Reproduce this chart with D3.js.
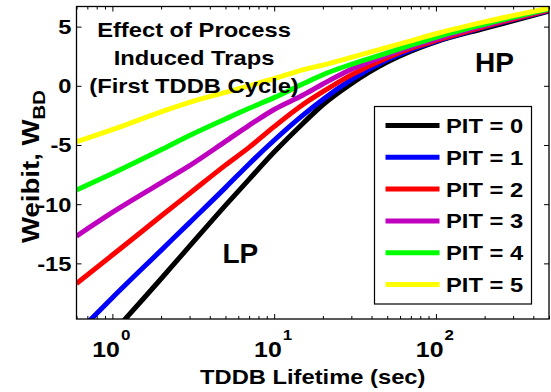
<!DOCTYPE html>
<html><head><meta charset="utf-8">
<script src="https://cdn.jsdelivr.net/npm/d3@7"></script>
<style>
body{margin:0;background:#fff}
text{font-family:"Liberation Sans",Arial,Helvetica,sans-serif;font-weight:bold;fill:#000}
</style>
</head><body>
<svg id="c" width="551" height="392"></svg>
<script>
// ---- data ----
const lifetimes = [0.6, 1, 2, 3, 5, 7, 10, 15, 20, 30, 50, 70, 100, 200, 500];
const pit0 = [-24.2, -20.9, -16.3, -13.55, -10.1, -7.9, -5.6, -3.2, -1.6, 0.19, 2.01, 2.93, 3.72, 4.86, 6.3];
const pit1 = [-20.96, -17.9, -13.9, -11.56, -8.6, -6.6, -4.6, -2.5, -1.15, 0.52, 2.2, 3.04, 3.75, 4.95, 6.35];
const pit2 = [-16.7, -14.3, -11.0, -9.1, -6.7, -5.2, -3.45, -1.6, -0.5, 0.92, 2.38, 3.16, 3.83, 5.0, 6.4];
const pit3 = [-12.7, -10.7, -8.2, -6.75, -4.7, -3.34, -2.0, -0.8, 0.15, 1.39, 2.6, 3.29, 3.95, 5.1, 6.45];
const pit4 = [-8.8, -7.4, -5.4, -4.2, -2.8, -1.9, -1.0, 0.15, 0.94, 1.82, 2.78, 3.44, 4.1, 5.2, 6.5];
const pit5 = [-4.72, -3.7, -2.2, -1.4, -0.55, 0.0, 0.6, 1.35, 1.75, 2.4, 3.25, 3.8, 4.4, 5.4, 6.55];
const seriesNames = ["PIT = 0", "PIT = 1", "PIT = 2", "PIT = 3", "PIT = 4", "PIT = 5"];
const seriesColors = ["#000000", "#0000ff", "#ff0000", "#bf00bf", "#00ff00", "#ffff00"];
const yTicks = [-15, -10, -5, 0, 5];
const xMajorTicks = [1, 10, 100];
const xMajorExp = ["0", "1", "2"];
const titleLines = ["Effect of Process", "Induced Traps", "(First TDDB Cycle)"];
const xDomain = [0.6, 500];
const yDomain = [-19.7, 6.7];

const allSeries = [pit0, pit1, pit2, pit3, pit4, pit5];

// ---- layout ----
const L = 76.5, R = 549, T = 6.5, B = 319;
const SX = 1.13;
const svg = d3.select("#c");
const x = d3.scaleLog().domain(xDomain).range([L, R]);
const y = d3.scaleLinear().domain(yDomain).range([B, T]);

svg.append("defs").append("clipPath").attr("id", "clip")
  .append("rect").attr("x", L).attr("y", T).attr("width", R - L).attr("height", B - T);

function stxt(g, px, py, str, size, anchor) {
  return g.append("text")
    .attr("transform", `translate(${px},${py}) scale(${SX},1)`)
    .attr("text-anchor", anchor)
    .style("font-size", size + "px")
    .text(str);
}

// minor ticks for log axis
const minorTicks = [];
[0.1, 1, 10, 100].forEach(d => { for (let k = 2; k <= 9; k++) { const v = d * k; if (v >= xDomain[0] && v <= xDomain[1]) minorTicks.push(v); } });

// ---- lines ----
const line = d3.line().x((d, i) => x(lifetimes[i])).y(d => y(d)).curve(d3.curveMonotoneX);
const lg = svg.append("g").attr("clip-path", "url(#clip)");
allSeries.forEach((s, i) => {
  lg.append("path").datum(s).attr("d", line)
    .attr("fill", "none").attr("stroke", seriesColors[i])
    .attr("stroke-width", 5).attr("stroke-linejoin", "round");
});

// ---- axes (ticks inside, box) ----
const ax = svg.append("g").attr("class", "axes");
ax.append("g").attr("transform", `translate(0,${B})`)
  .call(d3.axisBottom(x).tickValues(xMajorTicks).tickSize(-5).tickFormat(""));
ax.append("g").attr("transform", `translate(0,${B})`)
  .call(d3.axisBottom(x).tickValues(minorTicks).tickSize(-3).tickFormat(""));
ax.append("g").attr("transform", `translate(0,${T})`)
  .call(d3.axisTop(x).tickValues(xMajorTicks).tickSize(-5).tickFormat(""));
ax.append("g").attr("transform", `translate(0,${T})`)
  .call(d3.axisTop(x).tickValues(minorTicks).tickSize(-3).tickFormat(""));
ax.append("g").attr("transform", `translate(${L},0)`)
  .call(d3.axisLeft(y).tickValues(yTicks).tickSize(-5).tickFormat(""));
ax.append("g").attr("transform", `translate(${R},0)`)
  .call(d3.axisRight(y).tickValues(yTicks).tickSize(-5).tickFormat(""));
ax.selectAll("path.domain").remove();
ax.selectAll("line").attr("stroke", "#000").attr("stroke-width", 1);
svg.append("rect").attr("x", L).attr("y", T).attr("width", R - L).attr("height", B - T)
  .attr("fill", "none").attr("stroke", "#000").attr("stroke-width", 1.3);

// y tick labels
yTicks.forEach(v => stxt(svg, L - 5, y(v) + 7.5, String(v), 21, "end"));

// x tick labels 10^n
xMajorTicks.forEach((v, i) => {
  const g = svg.append("g").attr("transform", `translate(${x(v) - 1},357) scale(${SX},1)`);
  const t = g.append("text").attr("text-anchor", "middle").style("font-size", "22px");
  t.append("tspan").text("10");
  t.append("tspan").attr("dy", -17).attr("dx", 1).style("font-size", "15px").text(xMajorExp[i]);
});

// axis labels
stxt(svg, (L + R) / 2, 383.5, "TDDB Lifetime (sec)", 21, "middle");
const yl = svg.append("text")
  .attr("transform", `translate(39,166.5) rotate(-90) scale(1.2,1)`)
  .attr("text-anchor", "middle").style("font-size", "23px");
yl.append("tspan").text("Weibit, W");
yl.append("tspan").attr("dy", 6).style("font-size", "17px").text("BD");

// annotations
const titleY = [37, 64.5, 93];
titleLines.forEach((s, i) => stxt(svg, 194, titleY[i], s, 21, "middle"));
svg.append("text").attr("x", 475).attr("y", 71.7).style("font-size", "28px").text("HP");
svg.append("text").attr("x", 222.5).attr("y", 263.3).style("font-size", "28px").text("LP");

// legend
const lgd = svg.append("g");
lgd.append("rect").attr("x", 374.5).attr("y", 106.5).attr("width", 157).attr("height", 197.5)
  .attr("fill", "#fff").attr("stroke", "#000").attr("stroke-width", 1.2);
seriesNames.forEach((nm, i) => {
  const cy = 125.5 + i * 31.8;
  lgd.append("line").attr("x1", 385.5).attr("x2", 439.5).attr("y1", cy).attr("y2", cy)
    .attr("stroke", seriesColors[i]).attr("stroke-width", 5);
  stxt(lgd, 446, cy + 7.5, nm, 21, "start");
});
</script>
</body></html>
